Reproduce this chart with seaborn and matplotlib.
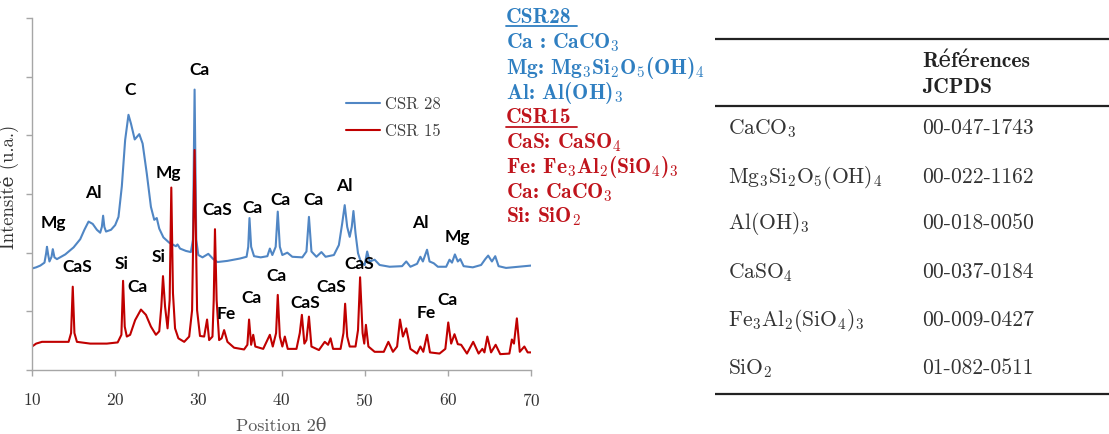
import matplotlib
matplotlib.use("Agg")
import matplotlib.pyplot as plt
import numpy as np
import pandas as pd
import seaborn as sns

# ---------------- data ----------------
two_theta_28 = [10.0, 10.5, 11.0, 11.5, 11.7, 11.8, 11.95, 12.1, 12.35, 12.5, 12.7, 13.0, 14.0, 15.0,
                15.8, 16.3, 16.8, 17.3, 17.8, 18.2, 18.4, 18.55, 18.7, 18.9, 19.5, 20.0, 20.4, 20.8,
                21.2, 21.6, 21.9, 22.35, 22.9, 23.3, 23.8, 24.3, 24.7, 25.0, 25.3, 25.8, 26.5, 27.3,
                27.5, 27.8, 28.5, 29.1, 29.35, 29.55, 29.75, 30.0, 30.5, 31.2, 31.8, 32.3, 33.5, 35.0,
                35.8, 36.0, 36.15, 36.35, 36.7, 37.5, 38.3, 38.6, 38.9, 39.3, 39.55, 39.8, 40.1, 40.7,
                41.3, 42.5, 43.0, 43.3, 43.6, 44.2, 44.8, 45.3, 46.3, 46.9, 47.3, 47.6, 47.9, 48.2,
                48.45, 48.65, 48.9, 49.2, 49.6, 50.0, 50.3, 50.6, 51.2, 51.8, 53.0, 54.5, 55.0, 55.5,
                56.3, 56.7, 57.0, 57.5, 57.8, 58.3, 58.8, 59.8, 60.2, 60.5, 60.85, 61.2, 61.5, 61.9,
                63.0, 64.0, 64.5, 64.85, 65.3, 65.7, 66.1, 67.0, 68.5, 70.0]
intensity_28 = [1.73, 1.75, 1.78, 1.83, 1.99, 2.10, 1.96, 1.85, 1.93, 2.06, 1.92, 1.89, 1.97, 2.09,
                2.23, 2.39, 2.53, 2.49, 2.39, 2.34, 2.44, 2.63, 2.44, 2.36, 2.39, 2.47, 2.61, 3.13,
                3.92, 4.35, 4.20, 3.93, 4.02, 3.86, 3.35, 2.78, 2.56, 2.59, 2.41, 2.26, 2.17, 2.11,
                2.14, 2.07, 2.03, 2.01, 2.22, 4.78, 2.22, 1.96, 1.92, 1.98, 1.89, 1.84, 1.86, 1.90,
                1.93, 2.10, 2.59, 2.10, 1.94, 1.92, 1.94, 2.07, 1.96, 2.10, 2.70, 2.10, 1.96, 2.00,
                1.93, 1.92, 2.02, 2.61, 2.02, 1.93, 2.01, 1.93, 1.96, 2.13, 2.50, 2.81, 2.44, 2.27,
                2.44, 2.71, 2.33, 1.99, 1.82, 1.79, 2.02, 1.85, 1.88, 1.79, 1.76, 1.77, 1.85, 1.76,
                1.81, 1.93, 1.85, 2.05, 1.85, 1.82, 1.76, 1.76, 1.88, 1.83, 1.97, 1.85, 1.89, 1.77,
                1.75, 1.79, 1.89, 1.95, 1.85, 1.94, 1.77, 1.74, 1.76, 1.78]

two_theta_15 = [10.0, 10.5, 11.2, 13.0, 14.4, 14.7, 14.9, 15.1, 15.4, 17.0, 19.0, 20.3, 20.75, 20.95,
                21.15, 21.4, 21.8, 22.4, 23.1, 23.7, 24.3, 24.9, 25.3, 25.55, 25.75, 26.0, 26.3, 26.55,
                26.75, 26.95, 27.2, 27.6, 28.3, 28.9, 29.25, 29.55, 29.85, 30.2, 30.7, 31.05, 31.3,
                31.7, 31.85, 32.0, 32.2, 32.5, 32.8, 33.1, 33.5, 34.3, 35.5, 35.9, 36.1, 36.35, 36.6,
                36.85, 37.8, 38.6, 38.95, 39.35, 39.55, 39.8, 40.1, 40.4, 40.75, 41.8, 42.2, 42.45,
                42.75, 43.0, 43.3, 43.6, 44.5, 45.2, 45.6, 45.9, 46.2, 47.1, 47.45, 47.65, 47.9, 48.2,
                48.9, 49.2, 49.45, 49.75, 49.95, 50.15, 50.45, 51.2, 52.3, 52.85, 53.4, 53.9, 54.25,
                54.6, 55.0, 55.5, 56.3, 56.7, 57.05, 57.5, 57.85, 59.0, 59.7, 60.05, 60.4, 60.8, 61.2,
                61.6, 62.3, 63.05, 63.7, 64.15, 64.4, 64.75, 65.2, 65.75, 66.3, 67.4, 67.7, 67.95,
                68.3, 68.65, 69.2, 69.6, 70.0]
intensity_15 = [0.40, 0.45, 0.48, 0.48, 0.48, 0.63, 1.42, 0.63, 0.48, 0.45, 0.45, 0.47, 0.60, 1.52,
                0.74, 0.57, 0.60, 0.85, 1.03, 0.94, 0.74, 0.60, 0.66, 1.08, 1.60, 1.08, 0.71, 1.19,
                3.11, 1.31, 0.71, 0.54, 0.48, 0.57, 1.02, 3.75, 1.02, 0.58, 0.57, 0.86, 0.51,
                0.57, 1.19, 2.40, 1.19, 0.51, 0.54, 0.68, 0.48, 0.38, 0.35, 0.43, 0.86, 0.43, 0.60,
                0.40, 0.36, 0.60, 0.40, 0.63, 1.28, 0.57, 0.40, 0.57, 0.36, 0.36, 0.63, 0.94,
                0.45, 0.51, 0.91, 0.40, 0.34, 0.48, 0.43, 0.54, 0.36, 0.36, 0.63, 1.13, 0.57, 0.40,
                0.40, 0.68, 1.58, 0.63, 0.45, 0.77, 0.40, 0.31, 0.31, 0.48, 0.31, 0.40, 0.86,
                0.57, 0.71, 0.36, 0.28, 0.40, 0.31, 0.60, 0.30, 0.28, 0.36, 0.81, 0.45, 0.61, 0.44,
                0.43, 0.28, 0.48, 0.28, 0.36, 0.30, 0.57, 0.30, 0.43, 0.27, 0.28, 0.52, 0.45,
                0.88, 0.31, 0.40, 0.30, 0.30]

series_names = ["CSR 28", "CSR 15"]
series_colors = ["#5086C4", "#C00000"]

peak_labels = ["Mg", "Al", "C", "Ca", "Mg", "CaS", "Ca", "Ca", "Ca", "Al", "Al", "Mg",
               "CaS", "Si", "Ca", "Si", "Fe", "Ca", "Ca", "CaS", "CaS", "CaS", "Fe", "Ca"]
peak_label_x = [12.6, 17.4, 21.8, 30.1, 26.45, 32.3, 36.5, 39.9, 43.85, 47.5, 56.65, 61.1,
                15.4, 20.75, 22.7, 25.25, 33.3, 36.45, 39.35, 42.8, 46.0, 49.4, 57.45, 60.0]
peak_label_y = [2.50, 3.01, 4.78, 5.11, 3.36, 2.72, 2.76, 2.89, 2.89, 3.13, 2.51, 2.27,
                1.76, 1.80, 1.42, 1.92, 0.95, 1.23, 1.61, 1.15, 1.42, 1.80, 0.97, 1.19]

x_ticks = [10, 20, 30, 40, 50, 60, 70]

legend_csr28 = ["CSR28", "Ca : CaCO$_\\mathbf{3}$", "Mg: Mg$_\\mathbf{3}$Si$_\\mathbf{2}$O$_\\mathbf{5}$(OH)$_\\mathbf{4}$",
                "Al: Al(OH)$_\\mathbf{3}$"]
legend_csr15 = ["CSR15", "CaS: CaSO$_\\mathbf{4}$", "Fe: Fe$_\\mathbf{3}$Al$_\\mathbf{2}$(SiO$_\\mathbf{4}$)$_\\mathbf{3}$",
                "Ca: CaCO$_\\mathbf{3}$", "Si: SiO$_\\mathbf{2}$"]
legend_text_colors = ["#2F7FC1", "#C0141C"]

table_header = ["Références", "JCPDS"]
phase_names = ["CaCO$_3$", "Mg$_3$Si$_2$O$_5$(OH)$_4$", "Al(OH)$_3$", "CaSO$_4$",
               "Fe$_3$Al$_2$(SiO$_4$)$_3$", "SiO$_2$"]
jcpds_refs = ["00-047-1743", "00-022-1162", "00-018-0050", "00-037-0184", "00-009-0427", "01-082-0511"]

# ---------------- style ----------------
sns.set_theme(style="white")
plt.rcParams["font.family"] = ["cmr10", "DejaVu Serif"]
plt.rcParams["mathtext.fontset"] = "cm"
plt.rcParams["axes.formatter.use_mathtext"] = True
plt.rcParams["axes.unicode_minus"] = False

W, H = 1109, 434
fig = plt.figure(figsize=(W / 100, H / 100), dpi=100)
ax = fig.add_axes([32 / W, 64 / H, 499 / W, 352 / H])

df = pd.concat([
    pd.DataFrame({"theta": two_theta_28, "I": intensity_28, "serie": series_names[0]}),
    pd.DataFrame({"theta": two_theta_15, "I": intensity_15, "serie": series_names[1]}),
], ignore_index=True)

sns.lineplot(data=df, x="theta", y="I", hue="serie", palette=dict(zip(series_names, series_colors)),
             estimator=None, sort=False, linewidth=1.5, ax=ax, legend=False)

ax.set_xlim(10, 70)
ax.set_ylim(0, 6)
ax.set_xticks(x_ticks)
ax.set_yticks(range(0, 7))
ax.set_yticklabels([])
for s in ["top", "right"]:
    ax.spines[s].set_visible(False)
for s in ["left", "bottom"]:
    ax.spines[s].set_color("#A6A6A6")
    ax.spines[s].set_linewidth(1.0)
ax.tick_params(axis="both", which="major", direction="out", length=4, width=1.0, color="#A6A6A6",
               bottom=True, left=True)
ax.tick_params(axis="x", labelsize=12.5, labelcolor="#333333", pad=12)
ax.set_xlabel("Position 2θ", fontsize=13, color="#555555", labelpad=7)
ax.set_ylabel("Intensité (u.a.)", fontsize=13.5, color="#333333")
ax.yaxis.set_label_coords(-0.027, 0.52)

for lab, px, py in zip(peak_labels, peak_label_x, peak_label_y):
    ax.text(px, py, lab, ha="center", va="center", fontsize=12.5, fontweight="bold",
            family="Lato", color="black")

handles = [plt.Line2D([], [], color=c, lw=1.5) for c in series_colors]
leg = ax.legend(handles, series_names, loc="upper left", bbox_to_anchor=(0.6, 0.82), frameon=False,
                fontsize=12, handlelength=2.0, handletextpad=0.3, labelspacing=0.7)
for t in leg.get_texts():
    t.set_color("#404040")

# ---------------- overlay in pixel coordinates ----------------
ov = fig.add_axes([0, 0, 1, 1])
ov.set_xlim(0, W)
ov.set_ylim(H, 0)
ov.axis("off")
ov.patch.set_visible(False)

# coloured legend of phases
x0 = 506
bl28 = [23.3, 48.3, 74.0, 99.3]
bl15 = [123.3, 148.3, 173.3, 198.3, 222.7]
for txt, y in zip(legend_csr28, bl28):
    ov.text(x0, y, txt, family=["cmb10", "DejaVu Serif"], fontsize=15.5, color=legend_text_colors[0], va="baseline", ha="left")
for txt, y in zip(legend_csr15, bl15):
    ov.text(x0, y, txt, family=["cmb10", "DejaVu Serif"], fontsize=15.5, color=legend_text_colors[1], va="baseline", ha="left")
ov.plot([x0, 577], [26.2, 26.2], color=legend_text_colors[0], lw=1.3)
ov.plot([x0, 577], [126.5, 126.5], color=legend_text_colors[1], lw=1.3)

# table
for y in [39, 106, 394]:
    ov.plot([715, W], [y, y], color="#222222", lw=1.6, solid_capstyle="butt")
ov.text(922, 66.7, table_header[0], family=["cmb10", "DejaVu Serif"], fontsize=15.5, color="#222222", va="baseline")
ov.text(922, 92.7, table_header[1], family=["cmb10", "DejaVu Serif"], fontsize=15.5, color="#222222", va="baseline")
row_bl = [134.3, 182.7, 229.3, 278.3, 326.0, 374.3]
for name, ref, y in zip(phase_names, jcpds_refs, row_bl):
    ov.text(728, y, name, fontsize=15.5, color="#333333", va="baseline")
    ov.text(922, y, ref, fontsize=15.5, color="#333333", va="baseline")

fig.savefig("out.png", dpi=100)
